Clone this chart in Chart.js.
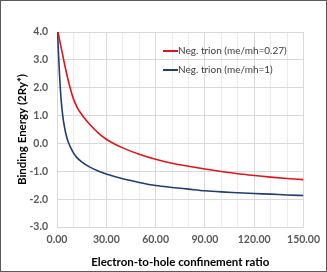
<!DOCTYPE html>
<html>
<head>
    <title>Trion binding energy</title>
    <script src="https://cdn.jsdelivr.net/npm/chart.js"></script>
    <style>
        html, body { margin: 0; padding: 0; background: #fff; }
        #wrap { width: 327px; height: 272px; box-sizing: border-box; border: 1px solid #595959; }
    </style>
</head>
<body>

<div id="wrap"><canvas id="bindChart" width="325" height="270"></canvas></div>

<script>
// Neg. trion, me/mh = 0.27
const redX = [0.6, 2.3, 4, 5.8, 7.6, 10, 12.5, 15, 17.5, 20, 25, 30, 35, 40, 50, 60, 70, 80, 90, 100, 110, 120, 130, 140, 150];
const redY = [4.0, 3.5, 3.02, 2.52, 2.08, 1.6, 1.27, 1.04, 0.85, 0.68, 0.38, 0.15, -0.02, -0.16, -0.39, -0.57, -0.71, -0.82, -0.92, -1.01, -1.09, -1.15, -1.21, -1.26, -1.30];

// Neg. trion, me/mh = 1
const blueX = [0.3, 0.7, 1.1, 1.5, 2.0, 2.6, 3.5, 4.5, 5.8, 7.2, 8.5, 10, 12, 15, 20, 25, 30, 40, 50, 60, 70, 80, 90, 100, 110, 120, 130, 140, 150];
const blueY = [4.0, 3.5, 3.0, 2.5, 2.0, 1.5, 1.0, 0.6, 0.25, 0.0, -0.17, -0.34, -0.5, -0.66, -0.85, -0.99, -1.1, -1.27, -1.40, -1.51, -1.58, -1.64, -1.70, -1.74, -1.77, -1.80, -1.82, -1.85, -1.87];

const seriesLabels = ['Neg. trion (me/mh=0.27)', 'Neg. trion (me/mh=1)'];

function toPoints(xs, ys) {
    return xs.map((x, i) => ({ x: x, y: ys[i] }));
}

const FONT = 'Lato, "Open Sans", sans-serif';

// legend drawn inside the plot area, like the original
const innerLegend = {
    id: 'innerLegend',
    afterDraw(chart) {
        const ctx = chart.ctx;
        const area = chart.chartArea;
        const x0 = area.left + 106;
        let y = area.top + 19;
        ctx.save();
        ctx.font = '10px ' + FONT;
        ctx.textBaseline = 'middle';
        chart.data.datasets.forEach(ds => {
            ctx.strokeStyle = ds.borderColor;
            ctx.lineWidth = 2;
            ctx.beginPath();
            ctx.moveTo(x0, y);
            ctx.lineTo(x0 + 15, y);
            ctx.stroke();
            ctx.fillStyle = '#404040';
            ctx.fillText(ds.label, x0 + 15, y);
            y += 19;
        });
        ctx.restore();
    }
};

document.addEventListener("DOMContentLoaded", function() {
    const ctx = document.getElementById('bindChart').getContext('2d');

    new Chart(ctx, {
        type: 'line',
        data: {
            datasets: [{
                label: seriesLabels[0],
                data: toPoints(redX, redY),
                borderColor: '#e0141c',
                borderWidth: 1.6,
                pointRadius: 0,
                cubicInterpolationMode: 'monotone',
                fill: false
            }, {
                label: seriesLabels[1],
                data: toPoints(blueX, blueY),
                borderColor: '#1f3f6e',
                borderWidth: 1.6,
                pointRadius: 0,
                cubicInterpolationMode: 'monotone',
                fill: false
            }]
        },
        options: {
            responsive: false,
            animation: false,
            layout: { padding: { top: 31, right: 19, bottom: 2, left: 0 } },
            scales: {
                x: {
                    type: 'linear',
                    min: 0,
                    max: 150,
                    afterFit: function(scale) { scale.height = 42; },
                    ticks: {
                        stepSize: 10,
                        autoSkip: false,
                        maxRotation: 0,
                        color: '#595959',
                        font: { family: FONT, size: 10.5, weight: 'bold' },
                        padding: 6,
                        callback: function(value) {
                            return value % 30 === 0 ? value.toFixed(2) : '';
                        }
                    },
                    grid: {
                        color: function(c) {
                            return c.tick && c.tick.value % 30 === 0 ? '#d9d9d9' : '#ececec';
                        },
                        drawTicks: false
                    },
                    border: { color: '#d9d9d9' },
                    title: {
                        display: true,
                        text: 'Electron-to-hole confinement ratio',
                        color: '#000',
                        font: { family: FONT, size: 11.5, weight: 'bold' },
                        padding: { top: 6, bottom: 0 }
                    }
                },
                y: {
                    min: -3,
                    max: 4,
                    afterFit: function(scale) { scale.width = 56; },
                    ticks: {
                        stepSize: 1,
                        color: '#595959',
                        font: { family: FONT, size: 10.5, weight: 'bold' },
                        padding: 9,
                        callback: function(value) { return value.toFixed(1); }
                    },
                    grid: { color: '#d9d9d9', drawTicks: false },
                    border: { color: '#d9d9d9' },
                    title: {
                        display: true,
                        text: 'Binding Energy (2Ry*)',
                        color: '#000',
                        font: { family: FONT, size: 11.5, weight: 'bold' },
                        padding: { top: 14, bottom: 0 }
                    }
                }
            },
            plugins: {
                legend: { display: false },
                tooltip: { enabled: false }
            }
        },
        plugins: [innerLegend]
    });
});
</script>

</body>
</html>
